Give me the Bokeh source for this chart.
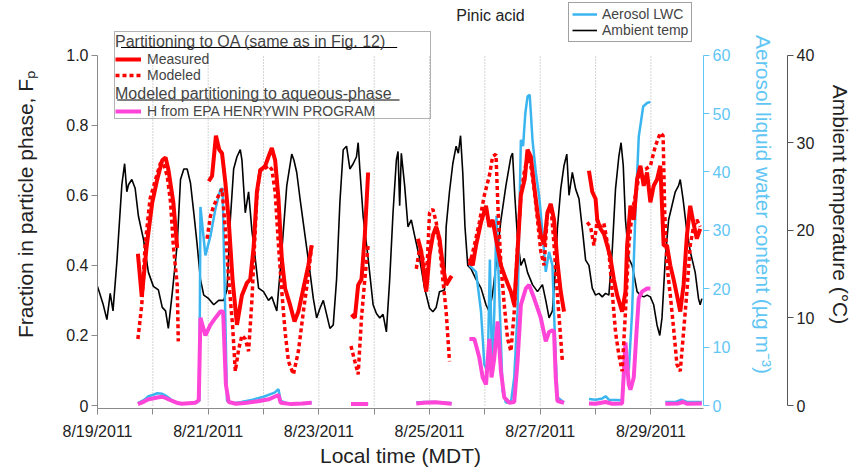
import math
from bokeh.plotting import figure
from bokeh.models import (Range1d, LinearAxis, FixedTicker, Legend, LegendItem,
                          Label, BoxAnnotation)
from bokeh.embed import file_html
from bokeh.resources import INLINE

nan = float("nan")
FONT = "Liberation Sans"
RED = "#ff0000"
MAGENTA = "#ff45d8"
BLUE = "#3ab5f0"
BLUE_AX = "#62c6f5"

# ---------------- data (time in days after 8/19/2011 00:00 MDT) ----------------
date_ticks = [0, 1, 2, 3, 4, 5, 6, 7, 8, 9, 10]
date_labels = ["8/19/2011", "", "8/21/2011", "", "8/23/2011", "", "8/25/2011", "",
               "8/27/2011", "", "8/29/2011"]
fp_ticks = [0, 0.2, 0.4, 0.6, 0.8, 1.0]
fp_labels = ["0", "0.2", "0.4", "0.6", "0.8", "1.0"]
lwc_ticks = [0, 10, 20, 30, 40, 50, 60]
temp_ticks = [0, 10, 20, 30, 40]

# ambient temperature (deg C)
temp_pts = [
    (0.00, 13.6), (0.02, 13.2), (0.10, 11.6), (0.17, 9.8), (0.23, 12.8), (0.28, 10.8),
    (0.35, 16.4), (0.44, 25.2), (0.49, 27.6), (0.53, 24.4), (0.56, 25.2), (0.62, 25.8),
    (0.68, 24.8), (0.74, 21.6), (0.83, 19.0), (0.92, 15.2), (1.01, 13.6), (1.10, 13.2),
    (1.17, 11.2), (1.23, 10.8), (1.28, 8.8), (1.35, 12.8), (1.44, 18.4), (1.50, 25.8),
    (1.56, 27.0), (1.62, 27.0), (1.68, 25.4), (1.74, 22.0), (1.80, 18.4), (1.86, 14.4),
    (1.92, 12.6), (2.01, 12.2), (2.10, 11.5), (2.19, 12.0), (2.28, 12.0), (2.34, 13.2),
    (2.40, 21.2), (2.46, 27.0), (2.52, 28.4), (2.58, 29.2), (2.61, 28.0), (2.67, 22.0),
    (2.73, 24.4), (2.79, 20.0), (2.85, 16.8), (2.91, 13.4), (3.00, 13.0), (3.09, 12.0),
    (3.15, 12.4), (3.24, 10.8), (3.33, 17.6), (3.42, 25.1), (3.51, 28.7), (3.55, 28.0),
    (3.60, 26.6), (3.66, 23.6), (3.75, 19.4), (3.84, 15.2), (3.90, 12.2), (3.96, 10.0),
    (4.02, 11.1), (4.08, 12.0), (4.14, 10.4), (4.20, 8.8), (4.26, 9.2), (4.32, 14.4),
    (4.38, 23.2), (4.44, 29.2), (4.50, 29.6), (4.56, 27.0), (4.62, 27.6), (4.68, 28.4),
    (4.71, 30.0), (4.74, 27.0), (4.80, 21.6), (4.89, 16.8), (4.98, 11.5), (5.04, 10.5),
    (5.10, 10.0), (5.16, 10.4), (5.22, 8.4), (5.28, 14.4), (5.34, 22.0), (5.40, 28.0),
    (5.43, 29.0), (5.46, 22.8), (5.49, 28.8), (5.55, 25.1), (5.61, 20.4), (5.67, 21.2),
    (5.73, 19.4), (5.82, 16.8), (5.91, 13.4), (6.00, 11.1), (6.06, 10.7), (6.12, 11.2),
    (6.18, 13.0), (6.27, 13.2), (6.30, 20.4), (6.36, 24.4), (6.42, 27.6), (6.48, 29.6),
    (6.52, 28.8), (6.56, 30.8), (6.60, 26.6), (6.64, 20.4), (6.69, 16.0), (6.75, 15.6),
    (6.84, 14.4), (6.93, 13.4), (7.02, 11.5), (7.08, 10.7), (7.14, 12.8), (7.20, 16.0),
    (7.29, 21.2), (7.38, 25.1), (7.47, 28.4), (7.50, 28.8), (7.54, 24.0), (7.59, 19.0),
    (7.65, 16.0), (7.71, 16.8), (7.77, 15.2), (7.86, 13.8), (7.95, 13.0), (8.04, 13.8),
    (8.10, 12.0), (8.16, 10.0), (8.22, 10.8), (8.28, 16.0), (8.31, 20.2), (8.37, 24.7),
    (8.43, 27.4), (8.48, 28.7), (8.52, 24.0), (8.58, 26.6), (8.64, 24.7), (8.70, 23.6),
    (8.76, 20.2), (8.82, 16.6), (8.88, 16.0), (8.94, 13.4), (9.00, 12.6), (9.06, 12.8),
    (9.12, 12.4), (9.18, 12.8), (9.24, 12.6), (9.30, 17.6), (9.36, 24.7), (9.42, 28.4),
    (9.46, 30.0), (9.50, 27.4), (9.54, 21.2), (9.60, 16.8), (9.66, 16.0), (9.71, 14.4),
    (9.75, 13.0), (9.81, 12.6), (9.87, 12.4), (9.93, 12.6), (9.99, 12.4), (10.05, 11.5),
    (10.11, 9.2), (10.16, 8.0), (10.20, 10.0), (10.26, 16.8), (10.32, 21.2), (10.38, 22.8),
    (10.44, 24.4), (10.50, 25.1), (10.53, 25.8), (10.58, 23.6), (10.64, 20.4), (10.71, 17.6),
    (10.80, 15.2), (10.86, 12.2), (10.89, 11.5), (10.92, 12.2),
]

# measured Fp (partitioning to OA)
meas_pts = [
    (0.73, 0.433), (0.80, 0.31), (0.89, 0.457), (0.99, 0.58), (1.08, 0.646), (1.17, 0.70),
    (1.23, 0.708), (1.28, 0.674), (1.37, 0.58), (1.44, 0.45), (1.70, nan),
    (2.01, 0.64), (2.07, 0.655), (2.14, 0.77), (2.20, 0.73), (2.25, 0.72), (2.31, 0.637),
    (2.37, 0.53), (2.44, 0.36), (2.52, 0.23), (2.61, 0.315), (2.70, 0.35), (2.76, 0.36),
    (2.82, 0.45), (2.88, 0.61), (2.94, 0.67), (3.03, 0.684), (3.09, 0.71), (3.15, 0.735),
    (3.21, 0.70), (3.27, 0.59), (3.33, 0.42), (3.39, 0.334), (3.48, 0.287), (3.56, 0.24),
    (3.63, 0.268), (3.72, 0.334), (3.81, 0.40), (3.87, 0.457), (4.20, nan),
    (4.59, 0.26), (4.65, 0.25), (4.71, 0.344), (4.77, 0.36), (4.83, 0.485), (4.89, 0.665),
    (5.30, nan),
    (5.79, 0.476), (5.85, 0.44), (5.91, 0.36), (5.94, 0.325), (6.00, 0.43), (6.06, 0.485),
    (6.12, 0.51), (6.18, 0.476), (6.24, 0.40), (6.30, 0.344), (6.36, 0.36), (6.40, 0.37),
    (6.55, nan),
    (6.72, 0.42), (6.78, 0.40), (6.84, 0.457), (6.93, 0.523), (7.02, 0.57), (7.08, 0.51),
    (7.14, 0.53), (7.20, 0.476), (7.29, 0.40), (7.38, 0.36), (7.47, 0.325), (7.53, 0.287),
    (7.59, 0.44), (7.65, 0.60), (7.72, 0.646), (7.77, 0.73), (7.83, 0.71), (7.89, 0.627),
    (7.95, 0.55), (8.01, 0.485), (8.07, 0.46), (8.13, 0.55), (8.19, 0.575), (8.25, 0.53),
    (8.31, 0.41), (8.37, 0.325), (8.43, 0.268), (8.60, nan),
    (8.88, 0.67), (8.94, 0.61), (9.00, 0.59), (9.03, 0.53), (9.09, 0.504), (9.15, 0.49),
    (9.21, 0.457), (9.27, 0.42), (9.33, 0.36), (9.39, 0.315), (9.48, 0.268), (9.54, 0.325),
    (9.57, 0.457), (9.63, 0.57), (9.69, 0.53), (9.75, 0.646), (9.81, 0.684), (9.87, 0.627),
    (9.93, 0.665), (9.99, 0.58), (10.05, 0.627), (10.11, 0.645), (10.17, 0.684),
    (10.23, 0.457), (10.29, 0.457), (10.35, 0.40), (10.41, 0.36), (10.47, 0.315),
    (10.53, 0.268), (10.59, 0.344), (10.65, 0.485), (10.71, 0.57), (10.77, 0.52),
    (10.83, 0.476), (10.89, 0.504),
]

# modeled Fp (partitioning to OA)
mod_pts = [
    (0.73, 0.19), (0.80, 0.287), (0.86, 0.457), (0.95, 0.59), (1.05, 0.646), (1.14, 0.693),
    (1.19, 0.69), (1.26, 0.655), (1.32, 0.58), (1.37, 0.457), (1.44, 0.344), (1.46, 0.183),
    (1.70, nan),
    (1.98, 0.476), (2.04, 0.54), (2.10, 0.57), (2.19, 0.60), (2.25, 0.618), (2.31, 0.504),
    (2.37, 0.36), (2.44, 0.23), (2.49, 0.098), (2.55, 0.16), (2.61, 0.20), (2.67, 0.19),
    (2.73, 0.155), (2.79, 0.30), (2.85, 0.50), (2.88, 0.60), (2.94, 0.674), (3.00, 0.674),
    (3.09, 0.684), (3.15, 0.674), (3.21, 0.61), (3.27, 0.457), (3.33, 0.325), (3.39, 0.21),
    (3.45, 0.126), (3.54, 0.089), (3.63, 0.155), (3.72, 0.268), (3.81, 0.372), (3.87, 0.457),
    (4.20, nan),
    (4.58, 0.17), (4.65, 0.126), (4.71, 0.089), (4.77, 0.25), (4.83, 0.36), (4.89, 0.457),
    (5.30, nan),
    (5.76, 0.39), (5.82, 0.447), (5.88, 0.42), (5.94, 0.344), (6.00, 0.55), (6.06, 0.56),
    (6.12, 0.523), (6.18, 0.457), (6.24, 0.36), (6.30, 0.268), (6.36, 0.126), (6.55, nan),
    (6.72, 0.40), (6.81, 0.457), (6.90, 0.523), (6.99, 0.60), (7.08, 0.655), (7.14, 0.71),
    (7.20, 0.717), (7.24, 0.55), (7.29, 0.40), (7.35, 0.287), (7.41, 0.19), (7.47, 0.155),
    (7.53, 0.268), (7.59, 0.457), (7.65, 0.60), (7.71, 0.665), (7.77, 0.71), (7.83, 0.684),
    (7.89, 0.618), (7.95, 0.53), (8.01, 0.44), (8.07, 0.40), (8.13, 0.55), (8.19, 0.575),
    (8.25, 0.457), (8.31, 0.315), (8.37, 0.19), (8.40, 0.126), (8.60, nan),
    (8.85, 0.523), (8.91, 0.51), (8.97, 0.457), (9.03, 0.53), (9.09, 0.51), (9.15, 0.52),
    (9.24, 0.44), (9.30, 0.325), (9.36, 0.21), (9.42, 0.145), (9.48, 0.098), (9.54, 0.268),
    (9.60, 0.457), (9.66, 0.55), (9.72, 0.60), (9.81, 0.674), (9.90, 0.674), (9.99, 0.684),
    (10.08, 0.74), (10.17, 0.778), (10.22, 0.77), (10.25, 0.55), (10.29, 0.40),
    (10.35, 0.315), (10.41, 0.22), (10.47, 0.117), (10.53, 0.098), (10.59, 0.21),
    (10.65, 0.325), (10.71, 0.457), (10.77, 0.51), (10.83, 0.53), (10.89, 0.51),
]

# aerosol liquid water content (ug m-3)
lwc_pts = [
    (0.73, 0.4), (0.85, 1.0), (0.92, 1.6), (1.00, 1.8), (1.08, 2.1), (1.17, 2.0), (1.25, 1.6),
    (1.35, 0.9), (1.45, 0.4), (1.55, 0.3), (1.70, 0.4), (1.80, 0.5), (1.84, 0.8),
    (1.86, 34.0), (1.95, 25.7), (2.04, 29.0), (2.13, 33.6), (2.22, 37.0), (2.26, 37.2),
    (2.31, 15.0), (2.34, 0.8), (2.45, 0.4), (2.60, 0.6), (2.80, 1.0), (3.00, 1.5),
    (3.20, 2.2), (3.27, 2.8), (3.31, 0.8), (3.45, 0.3), (3.60, 0.3), (3.75, 0.4),
    (3.87, 0.5), (4.20, nan),
    (4.58, 0.3), (4.89, 0.3), (5.30, nan),
    (5.76, 0.5), (5.90, 0.6), (6.10, 0.6), (6.25, 0.5), (6.40, 0.4), (6.55, nan),
    (6.72, 24.0), (6.84, 22.9), (6.93, 16.1), (6.99, 7.0), (7.05, 5.9), (7.09, 25.0),
    (7.13, 5.9), (7.17, 16.0), (7.21, 32.5), (7.26, 18.9), (7.32, 2.5), (7.38, 0.5),
    (7.47, 0.5), (7.53, 4.8), (7.59, 16.0), (7.65, 45.5), (7.69, 44.4), (7.73, 50.0),
    (7.77, 52.9), (7.81, 53.2), (7.86, 45.5), (7.92, 39.9), (7.98, 35.9), (8.04, 29.7),
    (8.10, 22.9), (8.16, 26.3), (8.22, 24.0), (8.27, 10.4), (8.31, 1.4), (8.43, 0.5),
    (8.60, nan),
    (8.88, 1.1), (9.00, 1.0), (9.12, 1.2), (9.18, 1.6), (9.24, 1.0), (9.48, 0.9),
    (9.54, 7.6), (9.60, 6.0), (9.66, 16.0), (9.72, 33.0), (9.78, 46.0), (9.86, 51.2),
    (9.93, 51.8), (9.99, 52.0), (10.10, nan),
    (10.26, 0.6), (10.45, 0.6), (10.55, 1.0), (10.65, 0.6), (10.92, 0.6),
]

# modeled partitioning to aqueous phase (H from EPA HENRYWIN)
henry_pts = [
    (0.73, 0.004), (0.85, 0.012), (0.92, 0.018), (1.00, 0.02), (1.08, 0.023), (1.17, 0.025),
    (1.25, 0.02), (1.35, 0.013), (1.45, 0.007), (1.52, 0.005), (1.77, 0.008), (1.83, 0.015),
    (1.86, 0.25), (1.95, 0.20), (2.04, 0.23), (2.13, 0.25), (2.22, 0.268), (2.27, 0.268),
    (2.32, 0.06), (2.37, 0.01), (2.50, 0.005), (2.70, 0.008), (2.90, 0.012), (3.10, 0.018),
    (3.27, 0.03), (3.31, 0.008), (3.50, 0.004), (3.70, 0.006), (3.87, 0.008), (4.20, nan),
    (4.58, 0.004), (4.89, 0.004), (5.30, nan),
    (5.76, 0.006), (5.90, 0.008), (6.10, 0.009), (6.25, 0.007), (6.40, 0.005), (6.55, nan),
    (6.72, 0.19), (6.81, 0.19), (6.90, 0.136), (6.96, 0.08), (7.02, 0.06), (7.08, 0.19),
    (7.12, 0.08), (7.17, 0.136), (7.23, 0.24), (7.29, 0.098), (7.35, 0.023), (7.44, 0.008),
    (7.53, 0.01), (7.59, 0.126), (7.65, 0.287), (7.74, 0.334), (7.80, 0.344), (7.89, 0.306),
    (8.01, 0.25), (8.10, 0.183), (8.16, 0.21), (8.22, 0.215), (8.25, 0.21), (8.28, 0.08),
    (8.31, 0.013), (8.43, 0.008), (8.60, nan),
    (8.88, 0.006), (9.00, 0.005), (9.18, 0.01), (9.30, 0.005), (9.48, 0.006), (9.54, 0.18),
    (9.60, 0.06), (9.63, 0.045), (9.69, 0.08), (9.74, 0.21), (9.78, 0.306), (9.84, 0.325),
    (9.93, 0.334), (9.99, 0.334), (10.10, nan),
    (10.26, 0.005), (10.50, 0.006), (10.58, 0.01), (10.65, 0.005), (10.92, 0.006),
]


def unzip(pts):
    return [a for a, _ in pts], [b for _, b in pts]


temp_days, temp_c = unzip(temp_pts)
meas_days, meas_fp = unzip(meas_pts)
mod_days, mod_fp = unzip(mod_pts)
lwc_days, lwc_val = unzip(lwc_pts)
henry_days, henry_fp = unzip(henry_pts)

# ---------------- figure ----------------
FP_TOP = 1.1558
FP_BOT = -0.0085
p = figure(width=855, height=469, output_backend="svg", toolbar_location=None,
           x_range=Range1d(0, 10.95), y_range=Range1d(FP_BOT, FP_TOP),
           min_border_left=97, min_border_right=152, min_border_top=0,
           min_border_bottom=58, outline_line_color=None,
           background_fill_color="white", border_fill_color="white")
p.extra_y_ranges = {"lwc": Range1d(FP_BOT * 60, FP_TOP * 60),
                    "temp": Range1d(FP_BOT * 40, FP_TOP * 40)}

p.xgrid.visible = False
p.ygrid.visible = False
grid_days = date_ticks[1:]
p.segment(x0=grid_days, y0=[fp_ticks[0]] * len(grid_days),
          x1=grid_days, y1=[fp_ticks[-1]] * len(grid_days),
          line_color="#a8a8a8", line_dash="1 2", line_width=1, level="underlay")

r_temp = p.line(temp_days, temp_c, y_range_name="temp", line_color="black", line_width=1.6)
r_lwc = p.line(lwc_days, lwc_val, y_range_name="lwc", line_color=BLUE, line_width=2.5)
r_h = p.line(henry_days, henry_fp, line_color=MAGENTA, line_width=4)
r_mod = p.line(mod_days, mod_fp, line_color=RED, line_width=3.5, line_dash="4 3")
r_meas = p.line(meas_days, meas_fp, line_color=RED, line_width=4)
# empty, invisible renderer used only to give the legend frame an (invisible) entry
r_blank = p.line(x=[], y=[], line_alpha=0)


def style_axis(ax, line_col, text_col):
    ax.axis_line_color = line_col
    ax.major_tick_line_color = line_col
    ax.minor_tick_line_color = None
    ax.major_tick_out = 6
    ax.major_tick_in = 0
    ax.major_label_text_font = FONT
    ax.major_label_text_font_size = "16px"
    ax.major_label_text_color = text_col
    ax.axis_label_text_font = FONT
    ax.axis_label_text_font_size = "21px"
    ax.axis_label_text_font_style = "normal"
    ax.axis_label_text_color = text_col
    ax.major_label_standoff = 3


xa = p.xaxis[0]
style_axis(xa, "#8a8a8a", "#222222")
xa.ticker = FixedTicker(ticks=date_ticks)
xa.major_label_overrides = dict(zip(date_ticks, date_labels))
xa.axis_label = "Local time (MDT)"
xa.major_label_standoff = 8
xa.axis_label_standoff = 1

ya = p.yaxis[0]
style_axis(ya, "#8a8a8a", "#222222")
ya.ticker = FixedTicker(ticks=fp_ticks)
ya.major_label_overrides = dict(zip(fp_ticks, fp_labels))
ya.axis_label = "Fraction in particle phase, F\u209a"
ya.axis_label_standoff = 26
ya.bounds = (FP_BOT, fp_ticks[-1])

ax_lwc = LinearAxis(y_range_name="lwc", ticker=FixedTicker(ticks=lwc_ticks),
                    axis_label="Aerosol liquid water content (\u00b5g m\u207b\u00b3)",
                    bounds=(lwc_ticks[0], lwc_ticks[-1]))
style_axis(ax_lwc, BLUE_AX, BLUE_AX)
ax_lwc.axis_label_standoff = 19
p.add_layout(ax_lwc, "right")

spacer = LinearAxis(y_range_name="lwc", ticker=FixedTicker(ticks=[]), axis_label=" ",
                    axis_line_color=None, major_tick_line_color=None,
                    minor_tick_line_color=None, major_tick_out=0, major_tick_in=0,
                    major_label_standoff=0, axis_label_standoff=0,
                    axis_label_text_font_size="5px")
p.add_layout(spacer, "right")

ax_t = LinearAxis(y_range_name="temp", ticker=FixedTicker(ticks=temp_ticks),
                  axis_label="Ambient temperature (\u00b0C)",
                  bounds=(temp_ticks[0], temp_ticks[-1]))
style_axis(ax_t, "#555555", "#222222")
ax_t.axis_label_standoff = 12
p.add_layout(ax_t, "right")


# ---------------- legends ----------------
def leg_style(lg, title_size="16px"):
    lg.label_text_font = FONT
    lg.label_text_font_size = "14px"
    lg.title_text_font = FONT
    lg.title_text_font_size = title_size
    lg.title_text_font_style = "normal"
    lg.glyph_height = 16
    lg.label_height = 16
    lg.spacing = 0
    lg.margin = 0


def screen_box(left, right, top, bottom, color):
    return BoxAnnotation(left=left, right=right, top=top, bottom=bottom,
                         left_units="screen", right_units="screen",
                         top_units="screen", bottom_units="screen",
                         fill_color=color, fill_alpha=1.0, line_color=None)


# bordered frame around the two stacked legend blocks (an empty legend of fixed size,
# transparent so the heading underlines stay visible)
leg_frame = Legend(items=[LegendItem(label=" ", renderers=[r_blank])],
                   location=(17, 289), padding=0, margin=0, spacing=0,
                   glyph_width=295, glyph_height=86, label_height=86,
                   label_standoff=0, label_text_font_size="1px",
                   border_line_color="#666666", border_line_width=1.2,
                   background_fill_alpha=0.0)
p.add_layout(leg_frame)

leg_a = Legend(items=[LegendItem(label="Measured", renderers=[r_meas]),
                      LegendItem(label="Modeled", renderers=[r_mod])],
               title="Partitioning to OA (same as in Fig. 12)", location=(18, 325))
leg_style(leg_a)
leg_a.border_line_color = None
leg_a.background_fill_alpha = 0
leg_a.padding = 2
leg_a.glyph_width = 26
leg_a.label_standoff = 6
leg_a.title_standoff = -2
p.add_layout(leg_a)

leg_b = Legend(items=[LegendItem(label="H from EPA HENRYWIN PROGRAM", renderers=[r_h])],
               title="Modeled partitioning to aqueous-phase", location=(18, 289))
leg_style(leg_b)
leg_b.border_line_color = None
leg_b.background_fill_alpha = 0
leg_b.padding = 2
leg_b.glyph_width = 26
leg_b.label_standoff = 6
leg_b.title_standoff = 0
p.add_layout(leg_b)

# heading underlines
p.add_layout(screen_box(23.5, 299.7, 361.5, 360.5, "black"))
p.add_layout(screen_box(19.7, 302, 309, 308, "black"))

leg_c = Legend(items=[LegendItem(label="Aerosol LWC", renderers=[r_lwc]),
                      LegendItem(label="Ambient temp", renderers=[r_temp])],
               location=(471, 366))
leg_style(leg_c)
leg_c.border_line_color = "#444444"
leg_c.border_line_width = 1
leg_c.background_fill_color = "white"
leg_c.background_fill_alpha = 1.0
leg_c.padding = 3
leg_c.glyph_width = 25
leg_c.label_standoff = 5
p.add_layout(leg_c)

title = Label(x=393, y=393, x_units="screen", y_units="screen", text="Pinic acid",
              text_align="center", text_baseline="middle", text_font=FONT,
              text_font_size="16px", text_color="#222222")
p.add_layout(title)

open("out.html", "w").write(file_html(p, INLINE))
